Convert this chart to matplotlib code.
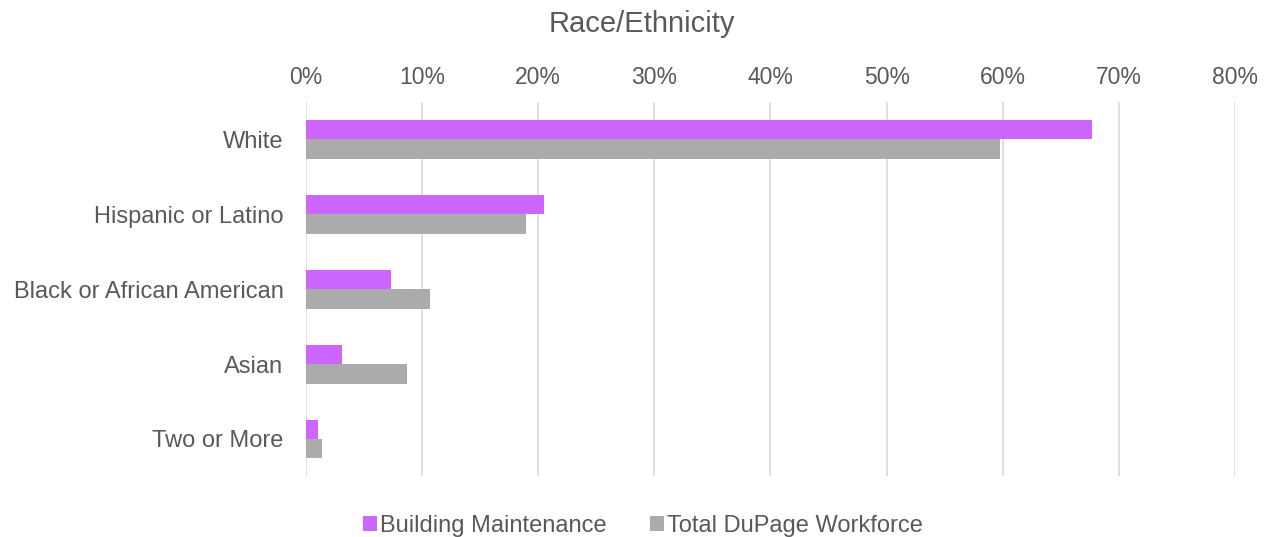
import matplotlib.pyplot as plt
import numpy as np

plt.rcParams['font.family'] = ['Liberation Sans', 'DejaVu Sans']

categories = ['White', 'Hispanic or Latino', 'Black or African American', 'Asian', 'Two or More']
building = [67.7, 20.5, 7.3, 3.1, 1.1]
dupage = [59.8, 19.0, 10.7, 8.7, 1.4]
xticks = [0, 10, 20, 30, 40, 50, 60, 70, 80]

txt = '#595959'
fig = plt.figure(figsize=(12.68, 5.37), dpi=100)
ax = fig.add_axes([0.2411, 0.1127, 0.733, 0.698])

y = np.arange(len(categories))
h = 0.26
ax.barh(y - h / 2, building, h, color='#CC66FF', label='Building Maintenance', zorder=3)
ax.barh(y + h / 2, dupage, h, color='#ABABAB', label='Total DuPage Workforce', zorder=3)

ax.set_xlim(0, 80)
ax.set_ylim(len(categories) - 0.5, -0.5)
ax.set_xticks(xticks)
ax.set_xticklabels([f'{t}%' for t in xticks], color=txt, fontsize=16.5)
ax.xaxis.tick_top()
ax.set_yticks(y)
ax.set_yticklabels(categories, color=txt, fontsize=17)
ax.tick_params(axis='x', length=0, pad=9)
ax.tick_params(axis='y', length=0, pad=16)
ax.grid(axis='x', color='#D9D9D9', linewidth=1.2, zorder=0)
for s in ax.spines.values():
    s.set_visible(False)

fig.text(0.506, 0.955, 'Race/Ethnicity', ha='center', va='center', fontsize=21, color=txt)
fig.legend(loc='center', bbox_to_anchor=(0.507, 0.02), ncol=2, frameon=False,
           fontsize=17, handlelength=0.6, handleheight=0.6, handletextpad=0.15,
           columnspacing=1.8, labelcolor=txt, borderpad=0)

fig.savefig('out.png', dpi=100)
